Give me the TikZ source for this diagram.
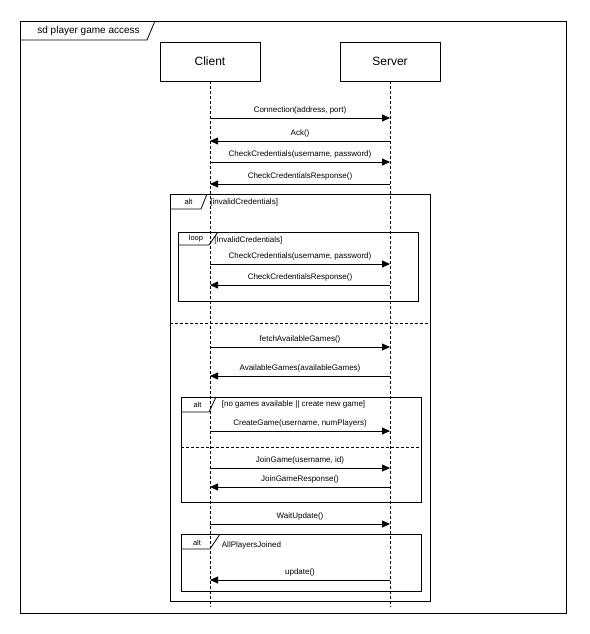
\documentclass[tikz,border=0pt]{standalone}
\usepackage{fontspec}
\setmainfont{Liberation Sans}
\usetikzlibrary{arrows.meta}

% one synchronous message between two lifeline points, label above the middle
\newcommand{\seqmsg}[5]{%
  \coordinate (#1-from) at (#3,#2);
  \coordinate (#1-to) at (#4,#2);
  \draw[msg] (#1-from) -- (#1-to) node[msglabel, midway, yshift=8pt] {#5};}

\begin{document}
\begin{tikzpicture}[x=1pt, y=-1pt, line width=0.8pt,
  head/.style={draw, minimum width=100pt, minimum height=39pt, inner sep=0pt,
               font=\fontsize{12}{14}\selectfont},
  life/.style={dash pattern=on 3pt off 2pt, line width=0.8pt},
  msg/.style={-{Triangle[length=8pt, width=7pt]}},
  msglabel/.style={font=\fontsize{8}{9.5}\selectfont, inner sep=0pt},
  fragbox/.style={draw, line width=0.8pt},
  tablabel/.style={font=\fontsize{7.5}{9}\selectfont, inner sep=0pt},
  guard/.style={font=\fontsize{8}{9.5}\selectfont, inner sep=0pt, anchor=west},
  operandsep/.style={dash pattern=on 3pt off 2pt, line width=0.8pt}]
\useasboundingbox (0,0) rectangle (589,634);

% diagram frame
\draw[fragbox] (20,21) rectangle (566,613);
\draw[fragbox] (20,40) -- (147,40) -- (155,21);
\node[anchor=west, inner sep=0pt, font=\fontsize{10}{12}\selectfont] (title) at (37,31) {sd player game access};

% participants and lifelines
\node[head] (client) at (210,61.5) {Client};
\node[head] (server) at (390,61.5) {Server};
\coordinate (client-end) at (210,607);
\coordinate (server-end) at (390,607);
\draw[life] (client.south) -- (client-end);
\draw[life] (server.south) -- (server-end);

% handshake
\seqmsg{m1}{118}{210}{390}{Connection(address, port)}
\seqmsg{m2}{141}{390}{210}{Ack()}
\seqmsg{m3}{162}{210}{390}{CheckCredentials(username, password)}
\seqmsg{m4}{184}{390}{210}{CheckCredentialsResponse()}

% outer alt fragment
\draw[fragbox] (170,194) rectangle (430,601);
\draw[fragbox] (170,209) -- (201,209) -- (207,194);
\node[tablabel] (alt1) at (188.5,202) {alt};
\node[guard] (g1) at (210,202) {[invalidCredentials]};
\draw[operandsep] (170,323) -- (430,323);

% retry loop
\draw[fragbox] (178,232) rectangle (418,301);
\draw[fragbox] (178,245) -- (209,245) -- (218,232);
\node[tablabel] (loop1) at (196,238.5) {loop};
\node[guard] (g2) at (214,240) {[InvalidCredentials]};
\seqmsg{m5}{264}{210}{390}{CheckCredentials(username, password)}
\seqmsg{m6}{285}{390}{210}{CheckCredentialsResponse()}

% game selection
\seqmsg{m7}{347}{210}{390}{fetchAvailableGames()}
\seqmsg{m8}{376}{390}{210}{AvailableGames(availableGames)}

\draw[fragbox] (181,397) rectangle (421,502);
\draw[fragbox] (181,412) -- (209,412) -- (216,397);
\node[tablabel] (alt2) at (197.5,405) {alt};
\node[guard] (g3) at (221.5,404) {[no games available || create new game]};
\seqmsg{m9}{431}{210}{390}{CreateGame(username, numPlayers)}
\draw[operandsep] (181,447) -- (421,447);
\seqmsg{m10}{468}{210}{390}{JoinGame(username, id)}
\seqmsg{m11}{487}{390}{210}{JoinGameResponse()}

% waiting for the other players
\seqmsg{m12}{524}{210}{390}{WaitUpdate()}
\draw[fragbox] (181,534) rectangle (421,591);
\draw[fragbox] (181,549) -- (210,549) -- (220,534);
\node[tablabel] (alt3) at (197,543) {alt};
\node[guard] (g4) at (221.5,545) {AllPlayersJoined};
\seqmsg{m13}{580}{390}{210}{update()}
\end{tikzpicture}
\end{document}
